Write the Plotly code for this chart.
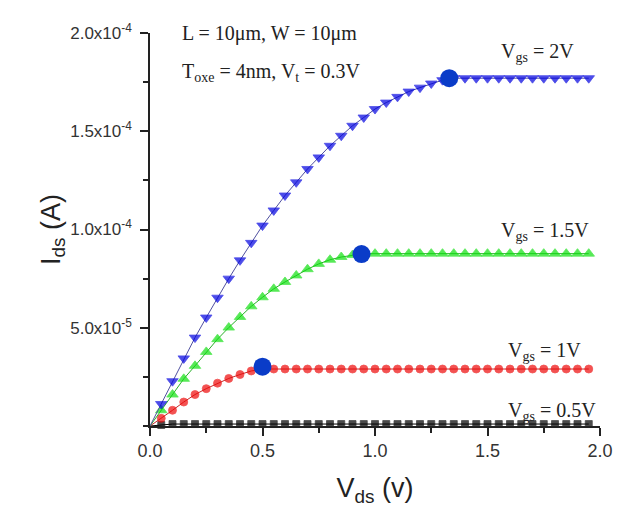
import plotly.graph_objects as go

# drain voltage sweep (V)
vds = [0.05, 0.10, 0.15, 0.20, 0.25, 0.30, 0.35, 0.40, 0.45, 0.50,
       0.55, 0.60, 0.65, 0.70, 0.75, 0.80, 0.85, 0.90, 0.95, 1.00,
       1.05, 1.10, 1.15, 1.20, 1.25, 1.30, 1.35, 1.40, 1.45, 1.50,
       1.55, 1.60, 1.65, 1.70, 1.75, 1.80, 1.85, 1.90, 1.95]

# drain current (A) per gate voltage
ids_05 = [5e-7] + [1.0e-6] * 38
ids_1 = [3.9e-6, 8.0e-6, 1.22e-5, 1.60e-5, 1.90e-5, 2.18e-5, 2.42e-5, 2.62e-5,
         2.80e-5, 2.90e-5] + [2.90e-5] * 29
ids_15 = [8.0e-6, 1.60e-5, 2.40e-5, 3.06e-5, 3.77e-5, 4.42e-5, 5.01e-5, 5.55e-5,
          6.09e-5, 6.55e-5, 6.98e-5, 7.33e-5, 7.66e-5, 7.98e-5, 8.25e-5, 8.46e-5,
          8.60e-5, 8.70e-5] + [8.77e-5] * 21
ids_2 = [1.12e-5, 2.28e-5, 3.44e-5, 4.50e-5, 5.52e-5, 6.53e-5, 7.50e-5, 8.43e-5,
         9.32e-5, 1.020e-4, 1.097e-4, 1.173e-4, 1.240e-4, 1.308e-4, 1.367e-4,
         1.426e-4, 1.477e-4, 1.528e-4, 1.570e-4, 1.613e-4, 1.646e-4, 1.675e-4,
         1.702e-4, 1.722e-4, 1.743e-4, 1.760e-4] + [1.770e-4] * 13

# saturation points
vdsat = [0.50, 0.94, 1.33]
idsat = [3.02e-5, 8.75e-5, 1.77e-4]

ytick_vals = [5e-5, 1e-4, 1.5e-4, 2e-4]
ytick_text = ["5.0x10<sup>-5</sup>", "1.0x10<sup>-4</sup>",
              "1.5x10<sup>-4</sup>", "2.0x10<sup>-4</sup>"]
xtick_vals = [0.0, 0.5, 1.0, 1.5, 2.0]
xtick_text = ["0.0", "0.5", "1.0", "1.5", "2.0"]

fig = go.Figure()

series = [
    (ids_05, "square", "#000000", "#000000", 7),
    (ids_1, "circle", "#ee0a0a", "#c82828", 8),
    (ids_15, "triangle-up", "#10e010", "#28b028", 10),
    (ids_2, "triangle-down", "#0000e0", "#5050a0", 10),
]
for ys, sym, col, lcol, sz in series:
    # the lines start at the origin, without a marker there
    fig.add_trace(go.Scatter(
        x=[0] + vds, y=[0] + ys, mode="lines+markers",
        line=dict(color=lcol, width=1),
        marker=dict(symbol=sym, color=col, size=[0] + [sz] * len(vds),
                    line=dict(color=col, width=0.8)),
        cliponaxis=False, showlegend=False,
    ))

fig.add_trace(go.Scatter(
    x=vdsat, y=idsat, mode="markers",
    marker=dict(symbol="circle", color="#0a3cc8", size=18),
    cliponaxis=False, showlegend=False,
))

serif = dict(family="Liberation Serif", size=20, color="#222")
notes = [
    (0.135, 1.995e-4, "L = 10\u03bcm, W = 10\u03bcm"),
    (0.135, 1.80e-4, "T<sub>oxe</sub> = 4nm, V<sub>t</sub> = 0.3V"),
    (1.553, 1.90e-4, "V<sub>gs</sub> = 2V"),
    (1.553, 0.99e-4, "V<sub>gs</sub> = 1.5V"),
    (1.58, 3.8e-5, "V<sub>gs</sub> = 1V"),
    (1.58, 7.6e-6, "V<sub>gs</sub> = 0.5V"),
]
for x, y, t in notes:
    fig.add_annotation(x=x, y=y, text=t, showarrow=False, xanchor="left",
                       yanchor="middle", font=serif)

title_font = dict(family="Liberation Sans", size=27, color="#222")
fig.update_xaxes(
    range=[0, 2.0], tickvals=xtick_vals, ticktext=xtick_text,
    ticks="outside", ticklen=8, tickwidth=1.5, tickcolor="#222",
    minor=dict(ticks="outside", ticklen=5, dtick=0.25, tickcolor="#222"),
    showline=True, linecolor="#222", linewidth=1.5, showgrid=False,
    zeroline=False, tickfont=dict(family="Liberation Sans", size=18, color="#333"),
    title=dict(text="V<sub>ds</sub> (v)", standoff=18, font=title_font),
)
fig.update_yaxes(
    range=[0, 2e-4], tickvals=ytick_vals, ticktext=ytick_text,
    ticks="outside", ticklen=8, tickwidth=1.5, tickcolor="#222",
    minor=dict(ticks="outside", ticklen=5, dtick=2.5e-5, tickcolor="#222"),
    showline=True, linecolor="#222", linewidth=1.5, showgrid=False,
    zeroline=False, ticklabelstandoff=5,
    tickfont=dict(family="Liberation Sans", size=17, color="#333"),
    title=dict(text="I<sub>ds</sub> (A)", standoff=2, font=title_font),
)
# page body adds an 8px offset, so the figure is drawn a bit smaller
fig.update_layout(
    width=630, height=512,
    margin=dict(l=142, r=38, t=25, b=94),
    plot_bgcolor="white", paper_bgcolor="white",
)

fig.write_html("out.html")
